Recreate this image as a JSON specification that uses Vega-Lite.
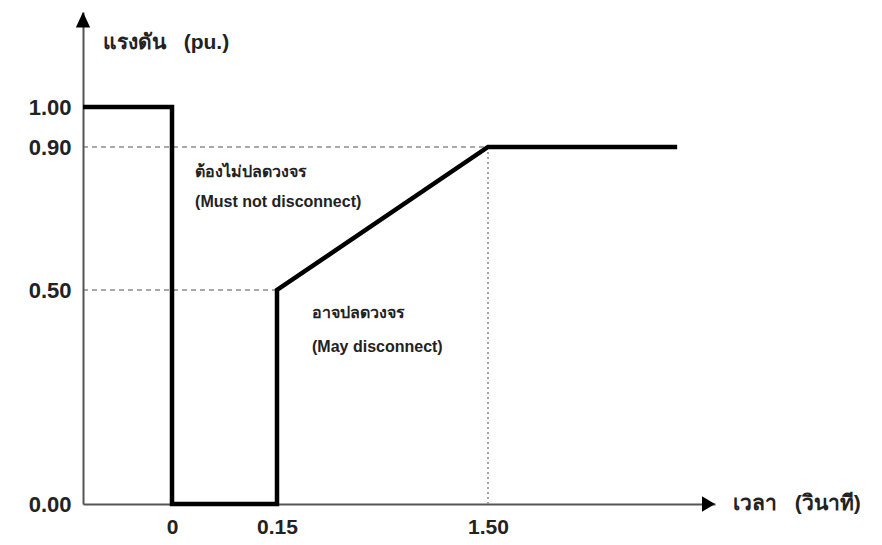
{
  "$schema": "https://vega.github.io/schema/vega-lite/v6.json",
  "autosize": {"type": "none"},
  "padding": {"left": 83, "top": 12, "right": 167, "bottom": 41},
  "width": 632,
  "height": 492,
  "background": "white",
  "config": {
    "view": {"stroke": null},
    "font": "Liberation Sans"
  },
  "datasets": {
    "curve": [
      {"i": 1, "t": -0.15, "v": 1.0},
      {"i": 2, "t": 0, "v": 1.0},
      {"i": 3, "t": 0, "v": 0},
      {"i": 4, "t": 0.15, "v": 0},
      {"i": 5, "t": 0.15, "v": 0.5},
      {"i": 6, "t": 1.5, "v": 0.9},
      {"i": 7, "t": 2.0, "v": 0.9}
    ],
    "hlines": [
      {"t": -0.15, "t2": 1.5, "v": 0.9},
      {"t": -0.15, "t2": 0.15, "v": 0.5}
    ],
    "vlines": [
      {"t": 1.5, "v": 0, "v2": 0.9}
    ],
    "arrows": [
      {"t": -0.15, "v": 1.25, "dir": "up"},
      {"t": 2.1, "v": 0, "dir": "right"}
    ],
    "notes": [
      {"t": 0.033, "v": 0.83, "label": "ต้องไม่ปลดวงจร"},
      {"t": 0.033, "v": 0.746, "label": "(Must not disconnect)"},
      {"t": 0.374, "v": 0.446, "label": "อาจปลดวงจร"},
      {"t": 0.374, "v": 0.367, "label": "(May disconnect)"}
    ],
    "titles": [
      {"t": -0.116, "v": 1.168, "label": "แรงดัน\u00a0\u00a0\u00a0(pu.)"},
      {"t": 2.148, "v": 0.0, "label": "เวลา\u00a0\u00a0\u00a0(วินาที)"}
    ]
  },
  "layer": [
    {
      "data": {"name": "hlines"},
      "mark": {"type": "rule", "color": "#555555", "strokeWidth": 1.2, "strokeDash": [5, 4]},
      "encoding": {
        "x": {"field": "t", "type": "quantitative", "scale": {"domain": [-0.15, 0, 0.15, 1.5, 2.1], "range": [0, 89, 194, 405, 632], "nice": false, "zero": false}, "axis": {"values": [0, 0.15, 1.5], "labelExpr": "datum.value == 0 ? '0' : format(datum.value, '.2f')", "ticks": false, "grid": false, "domainColor": "#555555", "domainWidth": 2, "labelFont": "Liberation Sans", "labelFontWeight": "bold", "labelFontSize": 21, "labelColor": "#222222", "labelPadding": 12, "title": null}},
        "x2": {"field": "t2"},
        "y": {"field": "v", "type": "quantitative", "scale": {"domain": [0, 0.5, 0.9, 1.0, 1.25], "range": [492, 278, 135, 95, 0], "nice": false, "zero": false}, "axis": {"values": [0, 0.5, 0.9, 1.0], "format": ".2f", "ticks": false, "grid": false, "domainColor": "#555555", "domainWidth": 2, "labelFont": "Liberation Sans", "labelFontWeight": "bold", "labelFontSize": 22, "labelColor": "#222222", "labelPadding": 12, "title": null}}
      }
    },
    {
      "data": {"name": "vlines"},
      "mark": {"type": "rule", "color": "#888888", "strokeWidth": 1.5, "strokeDash": [2, 3]},
      "encoding": {
        "x": {"field": "t", "type": "quantitative"},
        "y": {"field": "v", "type": "quantitative"},
        "y2": {"field": "v2"}
      }
    },
    {
      "data": {"name": "curve"},
      "mark": {"type": "line", "color": "#000000", "strokeWidth": 4.5, "strokeJoin": "miter"},
      "encoding": {
        "x": {"field": "t", "type": "quantitative"},
        "y": {"field": "v", "type": "quantitative"},
        "order": {"field": "i", "type": "quantitative"}
      }
    },
    {
      "data": {"name": "arrows"},
      "mark": {"type": "point", "filled": true, "color": "#000000", "opacity": 1, "size": 169},
      "encoding": {
        "x": {"field": "t", "type": "quantitative"},
        "y": {"field": "v", "type": "quantitative"},
        "shape": {"field": "dir", "type": "nominal", "scale": {"domain": ["up", "right"], "range": ["M0,0L-1.1,2.4L1.1,2.4Z", "M0,0L-2,-1.2L-2,1.2Z"]}, "legend": null}
      }
    },
    {
      "data": {"name": "notes"},
      "mark": {"type": "text", "align": "left", "baseline": "middle", "font": "Liberation Sans", "fontWeight": "bold", "fontSize": 16, "color": "#222222"},
      "encoding": {
        "x": {"field": "t", "type": "quantitative"},
        "y": {"field": "v", "type": "quantitative"},
        "text": {"field": "label"}
      }
    },
    {
      "data": {"name": "titles"},
      "mark": {"type": "text", "align": "left", "baseline": "middle", "font": "Liberation Sans", "fontWeight": "bold", "fontSize": 21, "color": "#222222"},
      "encoding": {
        "x": {"field": "t", "type": "quantitative"},
        "y": {"field": "v", "type": "quantitative"},
        "text": {"field": "label"}
      }
    }
  ]
}
